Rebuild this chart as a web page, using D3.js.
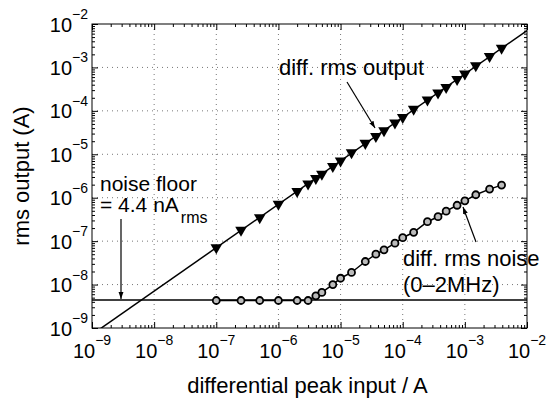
<!DOCTYPE html>
<html>
<head>
<meta charset="utf-8">
<script src="https://cdn.jsdelivr.net/npm/d3@7"></script>
<style>
body { margin: 0; background: #fff; }
text { font-family: "Liberation Sans", Arial, Helvetica, sans-serif; fill: #000; }
</style>
</head>
<body>
<svg id="chart" width="552" height="404"></svg>
<script>
// peak input currents (A) used for the measurements
var inputPeak = [1e-7, 2.5e-7, 5e-7, 1e-6, 2e-6, 3e-6, 4e-6, 5e-6, 7.5e-6,
    1e-5, 1.5e-5, 2.5e-5, 3.7e-5, 5e-5, 7.5e-5,
    1e-4, 1.5e-4, 2.5e-4, 3.7e-4, 5e-4, 7.5e-4,
    1e-3, 1.5e-3, 2.5e-3, 3.9e-3];
// differential rms output (triangles)
var outputRms = [7.1e-8, 1.8e-7, 3.5e-7, 7.1e-7, 1.4e-6, 2.1e-6, 2.8e-6, 3.5e-6, 5.3e-6,
    7.1e-6, 1.1e-5, 1.8e-5, 2.6e-5, 3.5e-5, 5.3e-5,
    7.1e-5, 1.1e-4, 1.8e-4, 2.6e-4, 3.5e-4, 5.3e-4,
    7.1e-4, 1.1e-3, 1.8e-3, 2.8e-3];
// differential rms noise 0-2MHz (circles)
var noiseRms = [4.3e-9, 4.3e-9, 4.3e-9, 4.3e-9, 4.3e-9, 4.3e-9, 5.5e-9, 6.6e-9, 1.0e-8,
    1.4e-8, 1.9e-8, 3.4e-8, 5.0e-8, 6.3e-8, 9.0e-8,
    1.2e-7, 1.6e-7, 2.8e-7, 3.65e-7, 4.9e-7, 6.7e-7,
    8.5e-7, 1.17e-6, 1.58e-6, 1.95e-6];
// ideal output line (peak / sqrt 2)
var idealX = [1e-9, 1e-2];
var idealY = [7.07e-10, 7.07e-3];
// noise floor
var noiseFloor = 4.4e-9;
// axis decades
var xDecades = [-9, -8, -7, -6, -5, -4, -3, -2];
var yDecades = [-9, -8, -7, -6, -5, -4, -3, -2];

var svg = d3.select("#chart"),
    MARGINS = { top: 24, right: 25, bottom: 76, left: 92 },
    WIDTH = 552,
    HEIGHT = 404,
    x0 = MARGINS.left,
    x1 = WIDTH - MARGINS.right,
    y0 = HEIGHT - MARGINS.bottom,
    y1 = MARGINS.top;

var xScale = d3.scaleLog().domain([1e-9, 1e-2]).range([x0, x1]);
var yScale = d3.scaleLog().domain([1e-9, 1e-2]).range([y0, y1]);

var majors = xDecades.map(function (e) { return Math.pow(10, e); });
var minors = [];
xDecades.slice(0, -1).forEach(function (e) {
    for (var m = 2; m < 10; m++) minors.push(m * Math.pow(10, e));
});

svg.append("defs").append("clipPath").attr("id", "clip")
    .append("rect").attr("x", x0).attr("y", y1).attr("width", x1 - x0).attr("height", y0 - y1);

var arrow = svg.select("defs").append("marker")
    .attr("id", "arrow").attr("viewBox", "0 0 10 10")
    .attr("refX", 10).attr("refY", 5)
    .attr("markerWidth", 7).attr("markerHeight", 7)
    .attr("markerUnits", "userSpaceOnUse")
    .attr("orient", "auto");
arrow.append("path").attr("d", "M0,1.5L10,5L0,8.5Z").attr("fill", "#000");

// dotted grid
var grid = svg.append("g").attr("class", "grid");
majors.slice(1, -1).forEach(function (v) {
    grid.append("line").attr("x1", xScale(v)).attr("x2", xScale(v))
        .attr("y1", y1).attr("y2", y0);
    grid.append("line").attr("y1", yScale(v)).attr("y2", yScale(v))
        .attr("x1", x0).attr("x2", x1);
});
grid.selectAll("line").attr("stroke", "#777").attr("stroke-width", 1)
    .attr("stroke-dasharray", "1,4");

// ticks on all four sides, pointing inwards
function ticks(axis, tx, ty, vals, size) {
    svg.append("g")
        .attr("transform", "translate(" + tx + "," + ty + ")")
        .call(axis.tickValues(vals).tickSize(size).tickFormat(""))
        .call(function (g) { g.select(".domain").remove(); })
        .selectAll("line").attr("stroke", "#000");
}
ticks(d3.axisBottom(xScale), 0, y0, majors, -6);
ticks(d3.axisBottom(xScale), 0, y0, minors, -3);
ticks(d3.axisTop(xScale), 0, y1, majors, -6);
ticks(d3.axisTop(xScale), 0, y1, minors, -3);
ticks(d3.axisLeft(yScale), x0, 0, majors, -6);
ticks(d3.axisLeft(yScale), x0, 0, minors, -3);
ticks(d3.axisRight(yScale), x1, 0, majors, -6);
ticks(d3.axisRight(yScale), x1, 0, minors, -3);

svg.append("rect").attr("x", x0).attr("y", y1)
    .attr("width", x1 - x0).attr("height", y0 - y1)
    .attr("fill", "none").attr("stroke", "#000").attr("stroke-width", 1);

// tick labels 10^n
xDecades.forEach(function (e) {
    var t = svg.append("text").attr("x", xScale(Math.pow(10, e))).attr("y", 358)
        .attr("text-anchor", "middle").style("font-size", "20px");
    t.append("tspan").text("10");
    t.append("tspan").attr("dy", -13).style("font-size", "14px").text("\u2212" + (-e));
});
yDecades.forEach(function (e) {
    var t = svg.append("text").attr("x", x0 - 4).attr("y", yScale(Math.pow(10, e)) + 7.5)
        .attr("text-anchor", "end").style("font-size", "20px");
    t.append("tspan").text("10");
    t.append("tspan").attr("dy", -12.5).style("font-size", "14px").text("\u2212" + (-e));
});

// axis titles
svg.append("text").attr("x", (x0 + x1) / 2 - 2).attr("y", 393)
    .attr("text-anchor", "middle").style("font-size", "22px")
    .text("differential peak input / A");
svg.append("text").attr("transform", "translate(29," + ((y0 + y1) / 2) + ") rotate(-90)")
    .attr("text-anchor", "middle").style("font-size", "22px")
    .text("rms output (A)");

var plot = svg.append("g").attr("clip-path", "url(#clip)");

var lineGen = d3.line()
    .x(function (d) { return xScale(d[0]); })
    .y(function (d) { return yScale(d[1]); });

// ideal output line
plot.append("path")
    .attr("d", lineGen(d3.zip(idealX, idealY)))
    .attr("stroke", "#000").attr("stroke-width", 1.5).attr("fill", "none");

// noise floor line
plot.append("path")
    .attr("d", lineGen([[1e-9, noiseFloor], [1e-2, noiseFloor]]))
    .attr("stroke", "#000").attr("stroke-width", 1.6).attr("fill", "none");

// noise curve
plot.append("path")
    .attr("d", lineGen(d3.zip(inputPeak, noiseRms)))
    .attr("stroke", "#000").attr("stroke-width", 1.5).attr("fill", "none");

plot.selectAll(".noise").data(d3.zip(inputPeak, noiseRms)).enter()
    .append("circle")
    .attr("cx", function (d) { return xScale(d[0]); })
    .attr("cy", function (d) { return yScale(d[1]); })
    .attr("r", 3.5)
    .attr("fill", "#bbb").attr("stroke", "#000").attr("stroke-width", 1.8);

// output triangles (pointing down)
var tri = d3.symbol().type(d3.symbolTriangle).size(58);
plot.selectAll(".out").data(d3.zip(inputPeak, outputRms)).enter()
    .append("path")
    .attr("d", tri)
    .attr("transform", function (d) {
        return "translate(" + xScale(d[0]) + "," + yScale(d[1]) + ") rotate(180)";
    })
    .attr("fill", "#000");

// annotations
svg.append("text").attr("x", 279).attr("y", 75).style("font-size", "22px")
    .text("diff. rms output");
svg.append("line").attr("x1", 347).attr("y1", 82).attr("x2", 375).attr("y2", 128)
    .attr("stroke", "#000").attr("stroke-width", 1.2).attr("marker-end", "url(#arrow)");

svg.append("text").attr("x", 100).attr("y", 191).style("font-size", "21px")
    .text("noise floor");
var nf = svg.append("text").attr("x", 100).attr("y", 212).style("font-size", "21px");
nf.append("tspan").text("= 4.4 nA");
nf.append("tspan").attr("dy", 11).attr("dx", 2).style("font-size", "16px").text("rms");
svg.append("line").attr("x1", 121).attr("y1", 219).attr("x2", 121).attr("y2", yScale(noiseFloor) - 1)
    .attr("stroke", "#000").attr("stroke-width", 1.2).attr("marker-end", "url(#arrow)");

svg.append("text").attr("x", 403).attr("y", 266).style("font-size", "22px")
    .text("diff. rms noise");
svg.append("text").attr("x", 403).attr("y", 292).style("font-size", "22px")
    .text("(0\u20132MHz)");
svg.append("line").attr("x1", 476).attr("y1", 242).attr("x2", 463).attr("y2", 207)
    .attr("stroke", "#000").attr("stroke-width", 1.2).attr("marker-end", "url(#arrow)");
</script>
</body>
</html>
